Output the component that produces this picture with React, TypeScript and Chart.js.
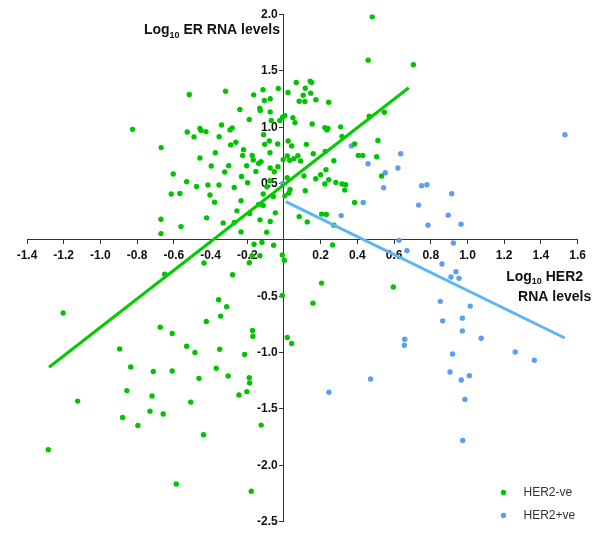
import React, { useEffect, useRef } from 'react';
import { Chart, registerables } from 'chart.js';

Chart.register(...registerables);

// HER2-negative tumours (green)
const negX = [
  -0.825, -0.516, -0.318, -0.669, -0.527, -0.490, -0.458, -0.452, -0.425, -0.340,
  -0.353, -0.294, -0.282, -0.240, -0.189, -0.165, -0.114, -0.107, -0.075, -0.031,
  -0.132, -0.129, -0.075, -0.069, -0.111, -0.007, -0.022, -0.603, -0.614, -0.567,
  -0.530, -0.476, -0.458, -0.414, -0.403, -0.378, -0.396, -0.374, -0.354, -0.323,
  -0.301, -0.290, -0.262, -0.271, -0.231, -0.220, -0.225, -0.203, -0.198, -0.173,
  -0.167, -0.153, -0.138, -0.125, -0.105, -0.080, -0.076, -0.075, -0.053, -0.034,
  -0.033, -0.670, -0.670, -0.561, -0.421, -0.331, -0.271, -0.256, -0.234, -0.234,
  -0.187, -0.138, -0.131, -0.113, -0.094, -0.075, -0.047, -0.058, -0.076, -0.093,
  -0.113,
  0.481, 0.459, 0.705, 0.067, 0.116, 0.143, 0.151, 0.022, 0.105, 0.146,
  0.083, 0.114, 0.174, 0.244, 0.005, 0.049, 0.060, 0.154, 0.223, 0.240,
  0.234, 0.309, 0.316, 0.465, 0.547, 0.023, 0.042, 0.122, 0.160, 0.225,
  0.385, 0.512, -0.004, 0.018, 0.031, 0.054, 0.076, 0.091, 0.405, 0.429,
  0.505, 0.272, 0.229, 0.200, 0.173, 0.109, 0.018, 0.532, 0.244, 0.223,
  0.283, 0.316, 0.336, 0.331, 0.116, 0.033, 0.026, 0.005, 0.385, 0.083,
  0.127, 0.205, 0.231, 0.272,
  0.265, -0.009, 0.002, 0.205, 0.158, -0.009, 0.596, 0.018, 0.042,
  -0.163, -0.120, -0.056, -0.131, -0.174, -0.189, -0.436, -0.650, -0.280, -1.203,
  -0.356, -0.312, -0.345, -0.423, -0.674, -0.609, -0.171, -0.169, -0.895, -0.530,
  -0.485, -0.350, -0.214, -0.835, -0.712, -0.609, -0.369, -0.304, -0.463, -0.189,
  -0.187, -1.124, -0.856, -0.719, -0.202, -0.245, -0.508, -0.730, -0.879, -0.658,
  -0.796, -0.438, -0.124, -1.284, -0.587, -0.178,
];
const negY = [
  0.981, 1.290, 1.319, 0.819, 0.958, 0.914, 0.990, 0.970, 0.961, 1.020,
  0.916, 0.976, 0.994, 1.157, 1.068, 1.287, 1.332, 1.237, 1.252, 1.343,
  1.168, 1.148, 1.136, 1.059, 0.934, 1.088, 1.059, 0.585, 0.407, 0.412,
  0.516, 0.474, 0.727, 0.487, 0.398, 0.335, 0.656, 0.774, 0.487, 0.602,
  0.658, 0.843, 0.866, 0.465, 0.563, 0.801, 0.750, 0.658, 0.507, 0.750,
  0.709, 0.608, 0.679, 0.694, 0.848, 0.878, 0.774, 0.638, 0.605, 0.851,
  0.649, 0.184, 0.056, 0.118, 0.196, 0.151, 0.154, 0.258, 0.347, 0.071,
  0.234, 0.314, 0.178, 0.305, 0.069, 0.163, 0.240, 0.385, 0.525, 0.472,
  0.407,
  1.981, 1.595, 1.554, 1.397, 1.346, 1.408, 1.397, 1.308, 1.284, 1.302,
  1.230, 1.228, 1.243, 1.222, 1.103, 1.085, 1.041, 1.029, 0.996, 0.990,
  0.976, 1.003, 0.919, 1.097, 1.133, 0.878, 0.834, 0.848, 0.765, 0.786,
  0.851, 0.883, 0.712, 0.745, 0.706, 0.721, 0.747, 0.700, 0.750, 0.750,
  0.738, 0.703, 0.623, 0.578, 0.543, 0.567, 0.552, 0.567, 0.534, 0.496,
  0.510, 0.496, 0.489, 0.442, 0.436, 0.448, 0.415, 0.391, 0.332, 0.207,
  0.160, 0.229, 0.225, 0.131,
  -0.044, -0.133, -0.181, -0.383, -0.561, -0.492, -0.418, -0.866, -0.919,
  -0.038, -0.020, -0.047, -0.140, -0.140, -0.202, -0.205, -0.305, -0.309, -0.649,
  -0.531, -0.593, -0.676, -0.723, -0.774, -0.830, -0.803, -0.854, -0.967, -0.943,
  -0.999, -0.970, -1.017, -1.127, -1.168, -1.163, -1.139, -1.207, -1.228, -1.222,
  -1.270, -1.430, -1.337, -1.385, -1.346, -1.376, -1.439, -1.519, -1.575, -1.545,
  -1.646, -1.729, -1.643, -1.862, -2.165, -2.230,
];

// HER2-positive tumours (blue)
const posX = [
  1.531, 0.367, 0.458, 0.636, 0.621, 0.552, 0.543, 0.432, 0.312, 0.750,
  0.779, 0.734, 0.914, 0.895, 0.965, 0.785, 0.627, -0.007, 0.670, 0.923,
  0.861, 0.910, 0.937, 0.954, 0.852, 1.015, 0.865, 0.972, 0.972, 1.075,
  0.658, 0.656, 0.919, 1.260, 1.364, 0.472, 0.245, 0.905, 0.966, 1.010,
  0.986, 0.974,
];
const posY = [
  0.934, 0.834, 0.676, 0.765, 0.638, 0.596, 0.463, 0.332, 0.216, 0.480,
  0.489, 0.309, 0.409, 0.220, 0.140, 0.131, -0.004, 0.501, -0.095, -0.027,
  -0.214, -0.329, -0.282, -0.341, -0.545, -0.587, -0.718, -0.694, -0.807, -0.872,
  -0.881, -0.934, -1.012, -0.994, -1.068, -1.234, -1.352, -1.172, -1.243, -1.204,
  -1.415, -1.779,
];

// Regression line end points
const negFitX = [-1.28, 0.68];
const negFitY = [-1.13, 1.35];
const posFitX = [0.01, 1.53];
const posFitY = [0.34, -0.87];

const seriesNames = ['HER2-ve', 'HER2+ve'];
const seriesColors = ['#00c400', '#5b9ef4'];
const lineColors = ['#00cc00', '#5cb6f5'];
const yTitleRest = ' ER RNA levels';
const xTitleRest = ' HER2';
const xTitleLine2 = 'RNA levels';

const FONT = '"Liberation Sans", Arial, Helvetica, sans-serif';

function pts(xs: number[], ys: number[]) {
  return xs.map((x, i) => ({ x, y: ys[i] }));
}

function drawLogTitle(ctx: CanvasRenderingContext2D, rightX: number, midY: number, rest: string) {
  const big = `bold 14px ${FONT}`;
  const small = `bold 9px ${FONT}`;
  ctx.font = big;
  const wLog = ctx.measureText('Log').width;
  const wRest = ctx.measureText(rest).width;
  ctx.font = small;
  const wSub = ctx.measureText('10').width;
  let x = rightX - (wLog + wSub + wRest);
  ctx.textAlign = 'left';
  ctx.textBaseline = 'middle';
  ctx.font = big;
  ctx.fillText('Log', x, midY);
  x += wLog;
  ctx.font = small;
  ctx.fillText('10', x, midY + 5);
  x += wSub;
  ctx.font = big;
  ctx.fillText(rest, x, midY);
}

const annotPlugin = {
  id: 'annot',
  afterDraw(chart: any) {
    const ctx = chart.ctx as CanvasRenderingContext2D;
    const xs = chart.scales.x;
    const ys = chart.scales.y;
    const x0 = xs.getPixelForValue(0);
    ctx.save();
    ctx.fillStyle = '#111';
    drawLogTitle(ctx, x0 - 4, ys.getPixelForValue(1.86), yTitleRest);
    drawLogTitle(ctx, xs.getPixelForValue(1.63), ys.getPixelForValue(-0.326), xTitleRest);
    ctx.font = `bold 14px ${FONT}`;
    ctx.textAlign = 'right';
    ctx.textBaseline = 'middle';
    ctx.fillText(xTitleLine2, xs.getPixelForValue(1.674), ys.getPixelForValue(-0.504));
    const lx = 503.5;
    const ly = [492.5, 515.5];
    ctx.font = `12px ${FONT}`;
    ctx.textAlign = 'left';
    ctx.textBaseline = 'middle';
    for (let i = 0; i < seriesNames.length; i++) {
      ctx.fillStyle = seriesColors[i];
      ctx.beginPath();
      ctx.arc(lx, ly[i], 2.7, 0, Math.PI * 2);
      ctx.fill();
      ctx.fillStyle = '#333';
      ctx.fillText(seriesNames[i], lx + 20, ly[i] + 0.5);
    }
    ctx.restore();
  },
};

export default function App() {
  const ref = useRef<HTMLCanvasElement>(null);
  useEffect(() => {
    if (!ref.current) return;
    const tickFont = { family: FONT, size: 12, weight: 'bold' as const };
    const fmt = (v: any) => (Math.abs(Number(v)) < 1e-9 ? '' : Number(v).toFixed(1));
    const chart = new Chart(ref.current, {
      type: 'scatter',
      data: {
        datasets: [
          {
            label: seriesNames[0] + ' fit',
            data: pts(negFitX, negFitY),
            showLine: true,
            borderColor: lineColors[0],
            borderWidth: 3,
            pointRadius: 0,
            order: 0,
          },
          {
            label: seriesNames[1] + ' fit',
            data: pts(posFitX, posFitY),
            showLine: true,
            borderColor: lineColors[1],
            borderWidth: 3,
            pointRadius: 0,
            order: 0,
          },
          {
            label: seriesNames[0],
            data: pts(negX, negY),
            backgroundColor: seriesColors[0],
            borderColor: seriesColors[0],
            borderWidth: 0,
            pointRadius: 2.7,
            order: 1,
          },
          {
            label: seriesNames[1],
            data: pts(posX, posY),
            backgroundColor: seriesColors[1],
            borderColor: seriesColors[1],
            borderWidth: 0,
            pointRadius: 2.7,
            order: 1,
          },
        ],
      },
      options: {
        animation: false,
        responsive: false,
        layout: { padding: { left: 27, right: 22.4, top: 14.5, bottom: 21.3 } },
        plugins: { legend: { display: false }, tooltip: { enabled: false }, title: { display: false } },
        scales: {
          x: {
            type: 'linear',
            min: -1.4,
            max: 1.6,
            position: { y: 0 } as any,
            afterFit: (s: any) => { s.height = 0; },
            border: { display: true, color: '#333', width: 1 },
            grid: { display: true, drawOnChartArea: false, drawTicks: true, tickLength: 4, color: '#333', tickColor: '#333' },
            ticks: { stepSize: 0.2, autoSkip: false, maxRotation: 0, padding: 5, color: '#111', font: tickFont, callback: fmt },
          },
          y: {
            type: 'linear',
            min: -2.5,
            max: 2.0,
            position: { x: 0 } as any,
            afterFit: (s: any) => { s.width = 0; },
            border: { display: true, color: '#333', width: 1 },
            grid: { display: true, drawOnChartArea: false, drawTicks: true, tickLength: 4, color: '#333', tickColor: '#333' },
            ticks: { stepSize: 0.5, display: false },
          },
          yLabels: {
            type: 'linear',
            axis: 'y',
            min: -2.5,
            max: 2.0,
            position: { x: -0.034 } as any,
            afterFit: (s: any) => { s.width = 0; },
            border: { display: false },
            grid: { display: false },
            ticks: { stepSize: 0.5, autoSkip: false, color: '#111', font: tickFont, callback: fmt },
          },
        },
      },
      plugins: [annotPlugin],
    });
    return () => chart.destroy();
  }, []);
  return (
    <div style={{ position: 'fixed', left: 0, top: 0, width: 600, height: 543, background: '#fff' }}>
      <canvas ref={ref} width={600} height={543} />
    </div>
  );
}
